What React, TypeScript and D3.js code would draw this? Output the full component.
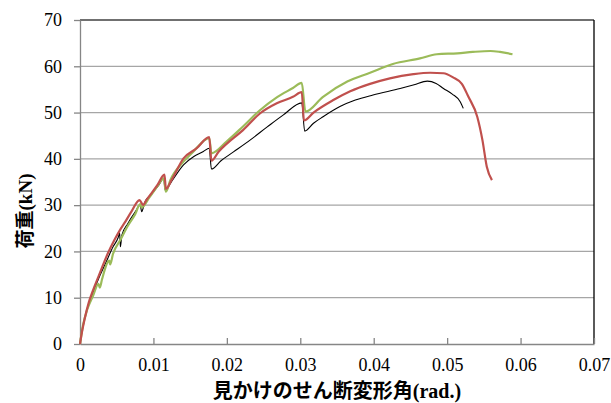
import React, { useEffect, useRef } from 'react';
import * as d3 from 'd3';

// rad., kN
const blackSeries: [number, number][] = [
  [0, 0], [0.0003, 3], [0.0008, 6.5], [0.0015, 10], [0.0025, 14], [0.0035, 17.5], [0.0045, 21],
  [0.0052, 23], [0.0054, 24], [0.0055, 21], [0.0057, 23.5], [0.0065, 26], [0.0075, 28.5], [0.0082, 30],
  [0.0084, 28.6], [0.0088, 30.5], [0.0098, 32.5], [0.0108, 34.5], [0.0114, 35.8], [0.0116, 33.2],
  [0.0125, 35.2], [0.0141, 38.7], [0.0155, 40.5], [0.0168, 41.6], [0.0176, 42.3], [0.0179, 37.8],
  [0.0192, 39.6], [0.0209, 41.5], [0.0232, 44.1], [0.0255, 46.9], [0.0277, 49.5], [0.0302, 52.1], [0.0306, 46.0],
  [0.0318, 47.7], [0.0331, 49.1], [0.0354, 51.3], [0.0375, 52.7], [0.0399, 53.8], [0.0436, 55.2],
  [0.0455, 56.0], [0.0473, 56.8], [0.0485, 56.3], [0.0495, 55.2], [0.0507, 54.0], [0.0518, 52.3], [0.0522, 50.9],
];

const redSeries: [number, number][] = [
  [0, 0], [0.0002, 2], [0.0006, 5.2], [0.0012, 9], [0.0018, 11.7], [0.0025, 14.5], [0.0038, 19.6],
  [0.0047, 22.5], [0.0054, 24.5], [0.0062, 26.5], [0.007, 28.6], [0.0081, 31.1], [0.0086, 30],
  [0.009, 31], [0.0097, 32.5], [0.0106, 34.5], [0.0115, 36.6], [0.0117, 33.5], [0.0125, 35.5],
  [0.0141, 40.1], [0.0159, 42.3], [0.0176, 44.7], [0.0179, 39.6], [0.0189, 41.6], [0.02, 43.3], [0.0222, 46.2],
  [0.0245, 49.8], [0.0268, 52], [0.029, 53.4], [0.0302, 54.4], [0.0305, 48.3], [0.0318, 50],
  [0.0345, 52.7], [0.0368, 54.6], [0.0395, 56.2], [0.0422, 57.4], [0.0454, 58.3], [0.0477, 58.6],
  [0.0495, 58.5], [0.0508, 57.6], [0.052, 56.2], [0.0529, 53.4],
  [0.0541, 49.1], [0.0548, 44.1], [0.0554, 38.3], [0.0561, 35.4],
];

const greenSeries: [number, number][] = [
  [0, 0], [0.0004, 4], [0.001, 7.5], [0.0018, 10.5], [0.0025, 13], [0.0027, 12.2], [0.003, 14],
  [0.004, 18], [0.0041, 17.2], [0.0045, 19.5], [0.0055, 22.5], [0.0065, 25.5], [0.0075, 28],
  [0.0082, 30.2], [0.0084, 29.5], [0.0095, 31.8], [0.0105, 34], [0.0114, 35.8], [0.0117, 32.9],
  [0.0123, 35.4], [0.0141, 39.4], [0.0154, 41.5], [0.0176, 44.5], [0.0179, 41.2], [0.02, 43.8],
  [0.0222, 47], [0.0245, 50.5], [0.0268, 53.3], [0.029, 55.3], [0.0302, 56.4], [0.0307, 50.2],
  [0.0331, 53.4], [0.0364, 56.7], [0.0395, 58.6], [0.0426, 60.5], [0.0463, 61.7], [0.0486, 62.6],
  [0.0514, 62.8], [0.0535, 63.1], [0.0559, 63.3], [0.0572, 63.1], [0.0589, 62.6],
];

const xTicks = [0, 0.01, 0.02, 0.03, 0.04, 0.05, 0.06, 0.07];
const yTicks = [0, 10, 20, 30, 40, 50, 60, 70];

const xTitle = '見かけのせん断変形角(rad.)';
const yTitle = '荷重(kN)';

const W = 611;
const H = 403;
const FONT = '"Liberation Serif", "Times New Roman", "Noto Sans CJK JP", serif';

const App = () => {
  const svgRef = useRef<SVGSVGElement>(null);

  useEffect(() => {
    const svg = d3.select(svgRef.current);
    svg.selectAll('*').remove();

    const left = 80, right = 594, top = 20, bottom = 344;

    const x = d3.scaleLinear().domain([0, 0.07]).range([left, right]);
    const y = d3.scaleLinear().domain([0, 70]).range([bottom, top]);

    // gridlines
    svg.append('g')
      .selectAll('line')
      .data(yTicks.filter(d => d > 0 && d < 70))
      .enter()
      .append('line')
      .attr('x1', left).attr('x2', right)
      .attr('y1', d => y(d)).attr('y2', d => y(d))
      .attr('stroke', '#a6a6a6')
      .attr('stroke-width', 1.2);

    // plot frame top / right
    svg.append('line')
      .attr('x1', left).attr('x2', right)
      .attr('y1', top).attr('y2', top)
      .attr('stroke', '#404040').attr('stroke-width', 1.3);
    svg.append('line')
      .attr('x1', right).attr('x2', right)
      .attr('y1', top).attr('y2', bottom)
      .attr('stroke', '#000').attr('stroke-width', 1.3);

    // left axis
    const yAxis = svg.append('g')
      .attr('transform', `translate(${left},0)`)
      .call(d3.axisLeft(y).tickValues(yTicks).tickSize(6).tickSizeOuter(0).tickPadding(12).tickFormat(d3.format('d')));
    yAxis.select('.domain').attr('stroke', '#868686').attr('stroke-width', 1.3);
    yAxis.selectAll('.tick line').attr('stroke', '#868686').attr('stroke-width', 1.3);
    yAxis.selectAll('text')
      .style('font-family', FONT).style('font-size', '18px').attr('fill', '#000');

    // bottom axis, ticks pointing inward
    const xAxis = svg.append('g')
      .attr('transform', `translate(0,${bottom})`)
      .call(d3.axisBottom(x).tickValues(xTicks).tickSize(-6).tickSizeOuter(0).tickPadding(14)
        .tickFormat(d => (d === 0 ? '0' : d3.format('.2f')(d as number))));
    xAxis.select('.domain').attr('stroke', '#868686').attr('stroke-width', 1.3);
    xAxis.selectAll('.tick line').attr('stroke', '#868686').attr('stroke-width', 1.3);
    xAxis.selectAll('text')
      .style('font-family', FONT).style('font-size', '18px').attr('fill', '#000');

    const line = d3.line<[number, number]>()
      .x(d => x(d[0]))
      .y(d => y(d[1]))
      .curve(d3.curveMonotoneX);

    const series = [
      { data: blackSeries, color: '#000000', w: 1.1 },
      { data: greenSeries, color: '#9bbb59', w: 2.2 },
      { data: redSeries, color: '#c0504d', w: 2.2 },
    ];

    svg.append('g')
      .selectAll('path')
      .data(series)
      .enter()
      .append('path')
      .attr('d', d => line(d.data))
      .attr('fill', 'none')
      .attr('stroke', d => d.color)
      .attr('stroke-width', d => d.w)
      .attr('stroke-linejoin', 'round');

    // axis titles
    svg.append('text')
      .attr('x', 337)
      .attr('y', 398)
      .attr('text-anchor', 'middle')
      .style('font-family', FONT)
      .style('font-weight', 'bold')
      .style('font-size', '20px')
      .text(xTitle);

    svg.append('text')
      .attr('transform', 'translate(32,211) rotate(-90)')
      .attr('text-anchor', 'middle')
      .style('font-family', FONT)
      .style('font-weight', 'bold')
      .style('font-size', '19px')
      .text(yTitle);
  }, []);

  return (
    <svg
      ref={svgRef}
      width={W}
      height={H}
      style={{ position: 'absolute', left: 0, top: 0, background: '#fff' }}
    />
  );
};

export default App;
